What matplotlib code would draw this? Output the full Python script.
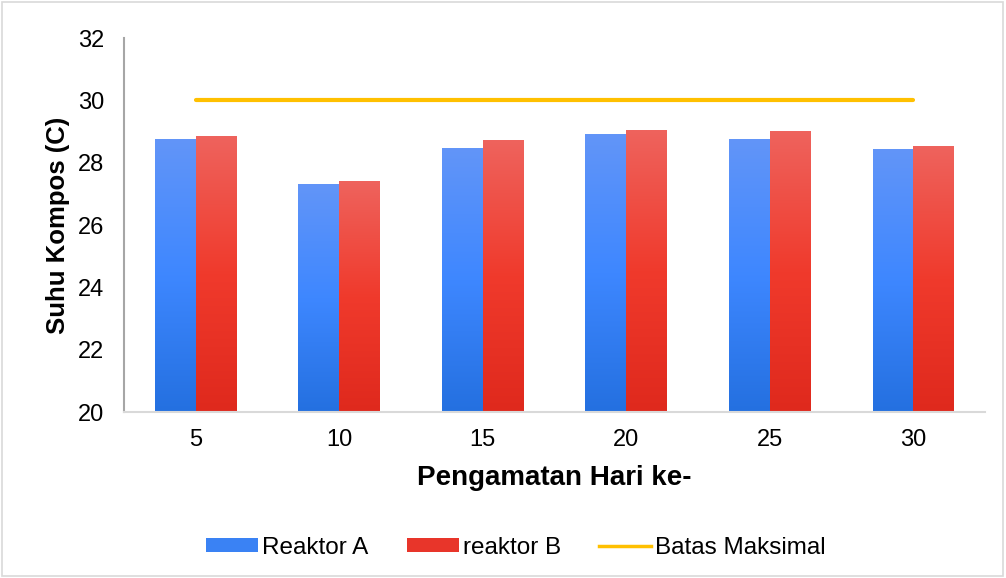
import numpy as np
import matplotlib.pyplot as plt
from matplotlib.colors import LinearSegmentedColormap
from matplotlib.patches import Patch
from matplotlib.lines import Line2D

plt.rcParams['font.family'] = ['Liberation Sans', 'DejaVu Sans']

hari = ["5", "10", "15", "20", "25", "30"]
reaktor_a = [28.74, 27.31, 28.47, 28.92, 28.75, 28.42]
reaktor_b = [28.84, 27.39, 28.70, 29.04, 29.00, 28.52]
batas = [30, 30, 30, 30, 30, 30]

cmap_a = LinearSegmentedColormap.from_list("a", ["#6295f8", "#3e87ff", "#2470e0"])
cmap_b = LinearSegmentedColormap.from_list("b", ["#ee635d", "#f03a2c", "#df291d"])

fig = plt.figure(figsize=(10.06, 5.78), dpi=100)
ax = fig.add_axes([0.1233, 0.287, 0.856, 0.647])

x = np.arange(len(hari))
w = 0.285
bars_a = ax.bar(x - w / 2, reaktor_a, w, color="none")
bars_b = ax.bar(x + w / 2, reaktor_b, w, color="none")

# gradient isi batang
ymin, ymax = 20, 32
grad = np.linspace(0, 1, 256).reshape(-1, 1)
for bars, cm in [(bars_a, cmap_a), (bars_b, cmap_b)]:
    for b in bars:
        x0 = b.get_x()
        x1 = x0 + b.get_width()
        top = b.get_height()
        ax.imshow(grad, cmap=cm, aspect="auto", extent=[x0, x1, ymin, top],
                  origin="upper", zorder=2)

ax.plot(x, batas, color="#ffc000", lw=3, zorder=3, solid_capstyle="round")

ax.set_xlim(-0.5, 5.5)
ax.set_ylim(ymin, ymax)
ax.set_yticks(np.arange(20, 33, 2))
ax.set_xticks(x)
ax.set_xticklabels(hari)
ax.tick_params(length=0, labelsize=17, colors="#000000")
ax.tick_params(axis="y", pad=14)
ax.tick_params(axis="x", pad=12)

for s in ["top", "right"]:
    ax.spines[s].set_visible(False)
ax.spines["left"].set_color("#a6a6a6")
ax.spines["bottom"].set_color("#d9d9d9")
ax.spines["left"].set_linewidth(1.5)
ax.spines["bottom"].set_linewidth(1.5)

ax.set_ylabel("Suhu Kompos (C)", fontsize=18.5, fontweight="bold", labelpad=6)
ax.set_xlabel("Pengamatan Hari ke-", fontsize=20, fontweight="bold", labelpad=10)

handles = [
    Patch(facecolor="#3a82f4", label="Reaktor A"),
    Patch(facecolor="#e8352a", label="reaktor B"),
    Line2D([0], [0], color="#ffc000", lw=2.5, label="Batas Maksimal"),
]
fig.legend(handles=handles, loc="center", bbox_to_anchor=(0.513, 0.052), ncol=3,
           frameon=False, fontsize=17.5, handlelength=2.14, handleheight=0.5,
           columnspacing=1.56, handletextpad=0.18)

fig.patches.append(plt.Rectangle((0.002, 0.003), 0.995, 0.994, transform=fig.transFigure,
                                 fill=False, edgecolor="#d9d9d9", lw=1.2))

fig.savefig("out.png", dpi=100)
